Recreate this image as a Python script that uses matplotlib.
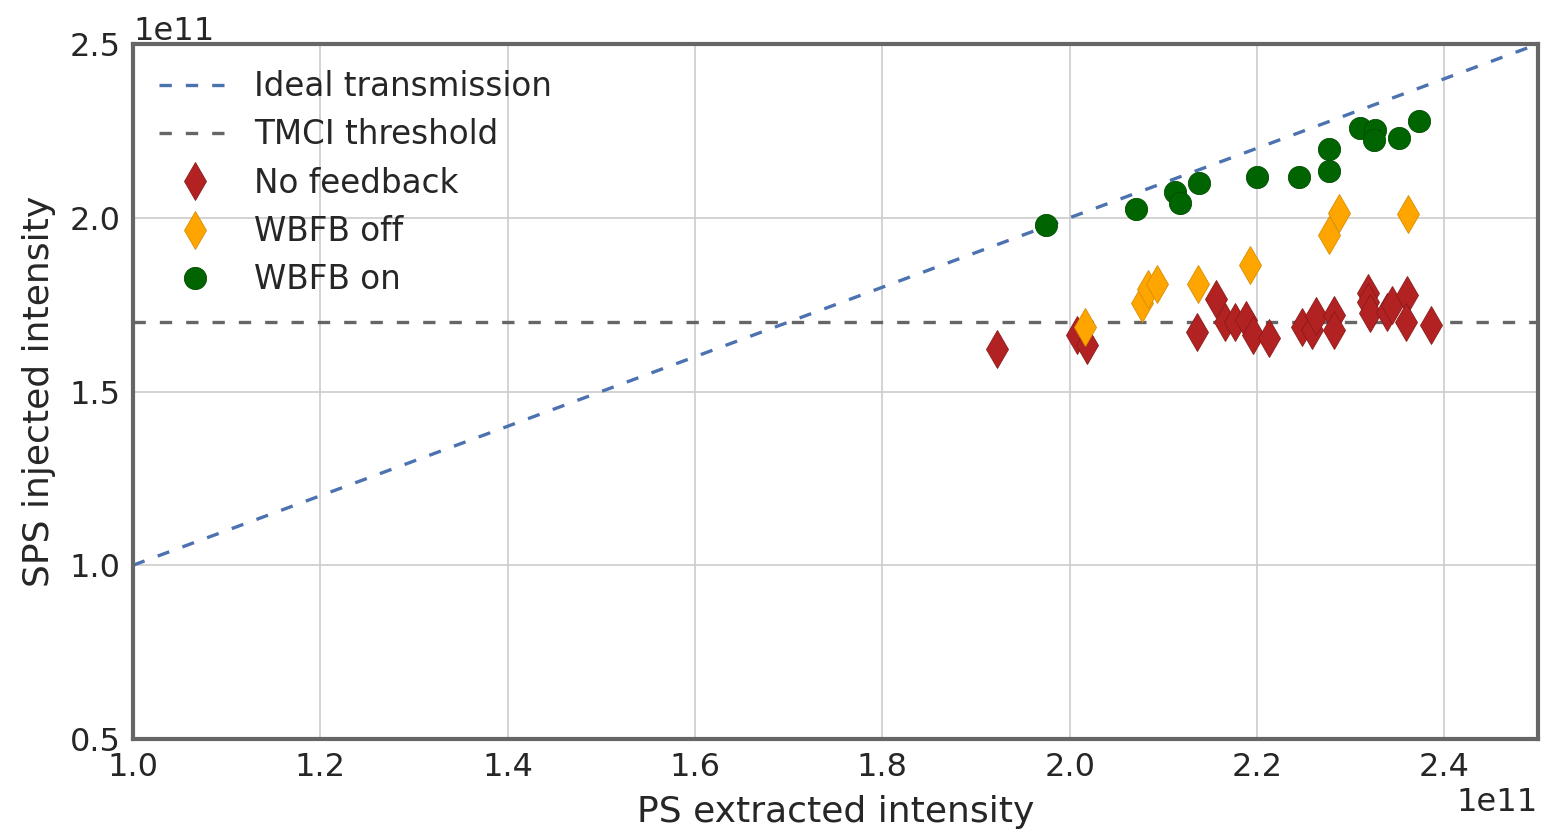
import numpy as np
from matplotlib import pyplot as plt

# Intensities in units of 1e11
no_fb_x = [1.922, 2.008, 2.019, 2.136, 2.156, 2.166, 2.176, 2.188, 2.196, 2.213,
           2.248, 2.259, 2.263, 2.282, 2.282, 2.318, 2.318, 2.321, 2.339, 2.344,
           2.360, 2.359, 2.386]
no_fb_y = [1.622, 1.663, 1.634, 1.671, 1.766, 1.700, 1.700, 1.706, 1.663, 1.654,
           1.686, 1.677, 1.717, 1.720, 1.677, 1.783, 1.758, 1.726, 1.729, 1.749,
           1.778, 1.700, 1.691]

wbfb_off_x = [2.016, 2.077, 2.084, 2.093, 2.137, 2.193, 2.277, 2.288, 2.361]
wbfb_off_y = [1.686, 1.755, 1.795, 1.809, 1.809, 1.864, 1.950, 2.014, 2.011]

wbfb_on_x = [1.975, 2.071, 2.112, 2.118, 2.138, 2.200, 2.245, 2.277, 2.277,
             2.310, 2.326, 2.325, 2.352, 2.373]
wbfb_on_y = [1.979, 2.025, 2.074, 2.042, 2.100, 2.117, 2.117, 2.198, 2.135,
             2.258, 2.253, 2.224, 2.229, 2.278]

tmci_threshold = 1.7
x_limits = [1.0, 2.5]
y_limits = [0.5, 2.5]
scale = 1e11

plt.rcParams["font.family"] = ["DejaVu Sans"]
plt.rcParams["font.size"] = 23
plt.rcParams["text.color"] = "#262626"
plt.rcParams["axes.labelcolor"] = "#262626"
plt.rcParams["xtick.color"] = "#262626"
plt.rcParams["ytick.color"] = "#262626"

fig = plt.figure(figsize=(15.42, 8.32), dpi=100)
ax = fig.add_axes([133 / 1542, 1 - 739 / 832, 1405 / 1542, 695 / 832])

ideal = np.array(x_limits) * scale
ax.plot(ideal, ideal, color="#4C72B0", lw=2.4, dashes=(3.7, 4.2),
        label="Ideal transmission")
ax.plot(ideal, [tmci_threshold * scale] * 2, color="#666666", lw=2.4,
        dashes=(3.7, 4.2), label="TMCI threshold")

ax.plot(np.array(no_fb_x) * scale, np.array(no_fb_y) * scale, "d",
        color="#B22222", mec="#8B1A1A", mew=0.6, ms=19, label="No feedback")
ax.plot(np.array(wbfb_off_x) * scale, np.array(wbfb_off_y) * scale, "d",
        color="#FFA500", mec="#D98C00", mew=0.6, ms=19, label="WBFB off")
ax.plot(np.array(wbfb_on_x) * scale, np.array(wbfb_on_y) * scale, "o",
        color="#006400", mec="#004d00", mew=0.6, ms=16, label="WBFB on")

ax.set_xlim(x_limits[0] * scale, x_limits[1] * scale)
ax.set_ylim(y_limits[0] * scale, y_limits[1] * scale)
ax.set_xticks(np.arange(1.0, 2.41, 0.2) * scale)
ax.set_yticks(np.arange(0.5, 2.51, 0.5) * scale)
ax.tick_params(length=0, pad=9)
ax.grid(True, color="#cccccc", lw=1.2)
ax.set_axisbelow(True)
for s in ax.spines.values():
    s.set_color("#666666")
    s.set_linewidth(3)

ax.set_xlabel("PS extracted intensity", fontsize=26, labelpad=9)
ax.set_ylabel("SPS injected intensity", fontsize=26, labelpad=10)

ax.legend(loc="upper left", frameon=False, handlelength=2.2, fontsize=23.5,
          borderaxespad=0.4, labelspacing=0.47, handletextpad=0.7,
          numpoints=1)

fig.savefig("out.png", dpi=100)
